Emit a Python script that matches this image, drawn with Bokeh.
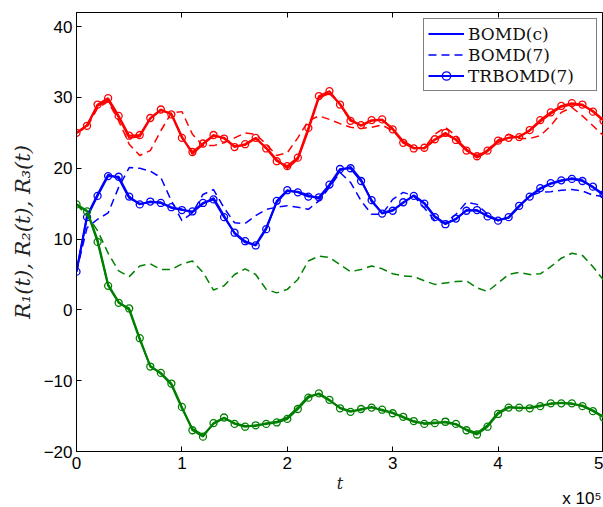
from bokeh.plotting import figure
from bokeh.models import Range1d, LinearAxis, FixedTicker, Title, Legend, LegendItem
from bokeh.embed import file_html
from bokeh.resources import INLINE

# ---- data (t in units of 1e4 steps) ----
t = [k * 10000 for k in range(51)]

red_tr = [25.0, 26.0, 29.0, 29.9, 27.4, 24.6, 24.7, 27.1, 28.3, 27.6, 24.3,
          22.3, 23.5, 24.7, 24.2, 23.0, 23.4, 24.3, 22.8, 21.0, 20.3,
          21.5, 25.7, 30.2, 30.9, 29.0, 26.7, 26.1, 26.8, 26.9, 25.5,
          23.6, 22.8, 22.9, 24.1, 25.0, 24.0, 22.5, 21.7, 22.5, 23.9,
          24.3, 24.4, 25.4, 26.8, 27.9, 28.8, 29.2, 29.0, 28.0, 26.7]
red_c = [25.0, 26.1, 28.8, 29.6, 27.2, 24.3, 24.5, 27.0, 28.2, 27.7, 24.5,
         22.0, 23.4, 24.6, 24.3, 23.1, 23.3, 24.2, 22.9, 21.2, 20.0,
         21.3, 25.4, 30.0, 30.6, 29.1, 26.9, 26.0, 26.7, 26.8, 25.6,
         23.8, 22.9, 22.8, 24.0, 24.8, 24.1, 22.7, 21.5, 22.4, 23.7,
         24.3, 24.5, 25.3, 26.6, 27.7, 28.7, 29.0, 28.9, 28.1, 26.8]
red_7 = [25.0, 25.8, 28.5, 29.4, 26.7, 23.4, 21.8, 22.5, 25.3, 27.8, 28.0,
         24.8, 23.2, 23.2, 23.6, 24.3, 25.0, 24.8, 23.4, 21.8, 22.2,
         24.3, 26.7, 27.4, 26.9, 26.3, 25.8, 25.6, 25.8, 26.1, 25.3,
         23.9, 22.9, 22.9, 24.8, 25.8, 24.6, 22.6, 21.8, 22.6, 24.0,
         24.8, 24.2, 24.2, 24.6, 26.0, 27.9, 28.6, 27.4, 26.0, 24.6]

blue_tr = [5.4, 13.1, 16.1, 18.9, 18.8, 16.0, 14.9, 15.3, 15.1, 14.5, 14.1,
           13.9, 15.1, 15.6, 13.1, 10.9, 9.7, 9.1, 11.4, 15.4, 16.9,
           16.6, 16.0, 15.9, 17.7, 19.9, 20.0, 18.2, 15.5, 13.6, 14.0,
           15.2, 16.1, 15.0, 13.1, 12.1, 12.9, 14.0, 14.1, 13.2, 12.6,
           13.1, 14.7, 16.0, 17.2, 17.9, 18.3, 18.5, 18.2, 17.4, 16.3]
blue_c = [5.4, 13.3, 16.3, 19.1, 18.6, 15.8, 15.0, 15.2, 15.2, 14.4, 14.2,
          13.8, 15.0, 15.8, 13.3, 10.8, 9.5, 9.2, 11.6, 15.2, 16.8,
          16.7, 16.2, 15.7, 17.5, 19.7, 20.2, 18.4, 15.3, 13.7, 14.1,
          15.1, 16.2, 15.1, 13.2, 12.2, 12.8, 14.1, 14.0, 13.3, 12.7,
          13.0, 14.6, 16.1, 17.1, 17.8, 18.2, 18.6, 18.3, 17.3, 16.2]
blue_7 = [5.4, 11.6, 12.8, 13.7, 17.3, 20.1, 20.0, 19.6, 18.7, 15.4, 12.6,
          13.7, 16.3, 17.0, 14.4, 12.3, 12.2, 13.3, 14.2, 14.5, 14.7,
          14.5, 14.2, 15.4, 17.3, 19.4, 18.0, 15.4, 13.5, 13.5, 15.6,
          16.6, 16.1, 14.4, 12.6, 12.3, 13.5, 15.2, 14.9, 13.5, 12.6,
          13.0, 14.7, 16.1, 16.6, 16.7, 16.9, 17.0, 16.8, 16.2, 16.0]

green_tr = [14.9, 13.9, 9.6, 3.4, 1.0, 0.2, -4.0, -8.0, -8.9, -10.4, -13.7,
            -17.0, -17.9, -16.0, -15.2, -16.1, -16.5, -16.3, -16.1, -15.9, -15.4,
            -14.0, -12.4, -11.8, -12.7, -13.9, -14.4, -14.0, -13.8, -14.1, -14.6,
            -15.1, -15.7, -16.1, -16.0, -15.8, -16.1, -17.0, -17.6, -16.5, -14.7,
            -13.8, -13.8, -13.9, -13.6, -13.2, -13.2, -13.2, -13.6, -14.3, -15.2]
green_c = [14.9, 14.0, 9.9, 3.6, 1.1, 0.0, -4.2, -7.9, -9.0, -10.6, -13.9,
           -16.8, -17.7, -16.1, -15.3, -16.0, -16.4, -16.4, -16.0, -15.8, -15.2,
           -13.8, -12.2, -11.9, -12.8, -13.8, -14.3, -14.1, -13.7, -14.2, -14.5,
           -15.2, -15.8, -16.0, -15.9, -15.9, -16.2, -16.9, -17.4, -16.3, -14.5,
           -13.7, -13.9, -13.8, -13.5, -13.3, -13.1, -13.3, -13.5, -14.2, -15.1]
green_7 = [14.9, 13.3, 11.2, 8.0, 5.5, 4.7, 6.2, 6.5, 5.7, 5.7, 6.5,
           6.9, 5.3, 2.8, 3.4, 5.0, 5.8, 5.0, 2.9, 2.4, 2.9,
           4.3, 6.9, 7.6, 7.4, 6.4, 5.4, 5.7, 6.2, 5.8, 5.1,
           4.8, 4.7, 4.1, 3.6, 3.8, 4.0, 4.1, 3.1, 2.6, 3.8,
           5.0, 5.3, 5.0, 5.1, 6.1, 7.3, 8.0, 7.7, 6.1, 4.2]

x_ticks = [0, 100000, 200000, 300000, 400000, 500000]
x_tick_labels = ["0", "1", "2", "3", "4", "5"]
y_ticks = [-20, -10, 0, 10, 20, 30, 40]
y_tick_labels = ["\u221220", "\u221210", "0", "10", "20", "30", "40"]
legend_labels = ["BOMD(c)", "BOMD(7)", "TRBOMD(7)"]
x_label = "t"
y_label = "R\u2081(t), R\u2082(t), R\u2083(t)"
multiplier = "x 10\u2075"

RED, BLUE, GREEN = "#ff0000", "#0000ff", "#008000"
TICK_FONT = "Liberation Sans"
SERIF = "DejaVu Serif"

p = figure(width=603, height=507, output_backend="svg", toolbar_location=None,
           x_range=Range1d(0, 500000), y_range=Range1d(-20, 42),
           min_border_left=76, min_border_right=0, min_border_top=12, min_border_bottom=56)
p.grid.visible = False
p.outline_line_color = "black"
p.outline_line_width = 1
p.background_fill_color = "white"
p.border_fill_color = "white"

# axes
xa = p.xaxis[0]
xa.ticker = FixedTicker(ticks=x_ticks)
xa.major_label_overrides = {v: s for v, s in zip(x_ticks, x_tick_labels)}
ya = p.yaxis[0]
ya.ticker = FixedTicker(ticks=y_ticks)
ya.major_label_overrides = {v: s for v, s in zip(y_ticks, y_tick_labels)}
for ax in (xa, ya):
    ax.major_tick_in = 5
    ax.major_tick_out = 0
    ax.minor_tick_line_color = None
    ax.axis_line_color = "black"
    ax.major_label_text_font = TICK_FONT
    ax.major_label_text_font_size = "17px"
    ax.major_label_text_color = "black"
    ax.axis_label_text_font = SERIF
    ax.axis_label_text_font_style = "italic"
    ax.axis_label_text_color = "#222222"
xa.axis_label_text_font_size = "16px"
ya.axis_label_text_font_size = "21px"
xa.major_label_standoff = 5
ya.major_label_standoff = 4
xa.axis_label = x_label
xa.axis_label_standoff = 2
ya.axis_label = y_label
ya.axis_label_standoff = 6

# mirrored ticks on top (no labels)
top = LinearAxis(ticker=FixedTicker(ticks=x_ticks), major_tick_in=5, major_tick_out=0,
                 minor_tick_line_color=None, axis_line_color=None,
                 major_label_overrides={v: "" for v in x_ticks})
p.add_layout(top, "above")

# x 10^5 multiplier below the axis, right aligned (pulled up beside the "t" label)
mult = Title(text=multiplier, align="right", text_font=TICK_FONT, text_font_size="17px",
             text_font_style="normal", text_color="black", standoff=-18, offset=2)
p.add_layout(mult, "below")

# curves
r_lines = {}
for col, c_vals, d_vals, tr_vals in [(RED, red_c, red_7, red_tr),
                                      (BLUE, blue_c, blue_7, blue_tr),
                                      (GREEN, green_c, green_7, green_tr)]:
    lc = p.line(t, c_vals, line_color=col, line_width=2)
    ld = p.line(t, d_vals, line_color=col, line_width=1.5, line_dash="8 5")
    lt = p.line(t, tr_vals, line_color=col, line_width=2)
    sc = p.scatter(t, tr_vals, marker="circle", size=7, fill_color=None,
                   line_color=col, line_width=1.3)
    r_lines[col] = (lc, ld, lt, sc)

lc, ld, lt, sc = r_lines[BLUE]
legend = Legend(items=[LegendItem(label=legend_labels[0], renderers=[lc]),
                       LegendItem(label=legend_labels[1], renderers=[ld]),
                       LegendItem(label=legend_labels[2], renderers=[lt, sc])],
                location="top_right")
legend.border_line_color = "black"
legend.border_line_width = 1
legend.background_fill_color = "white"
legend.background_fill_alpha = 1
legend.label_text_font = SERIF
legend.label_text_font_size = "17px"
legend.label_text_color = "#111111"
legend.glyph_width = 36
legend.glyph_height = 21
legend.label_height = 21
legend.label_width = 124
legend.label_standoff = 4
legend.spacing = 0
legend.padding = 4
legend.margin = 6
p.add_layout(legend, "center")

open("out.html", "w").write(file_html(p, INLINE))
